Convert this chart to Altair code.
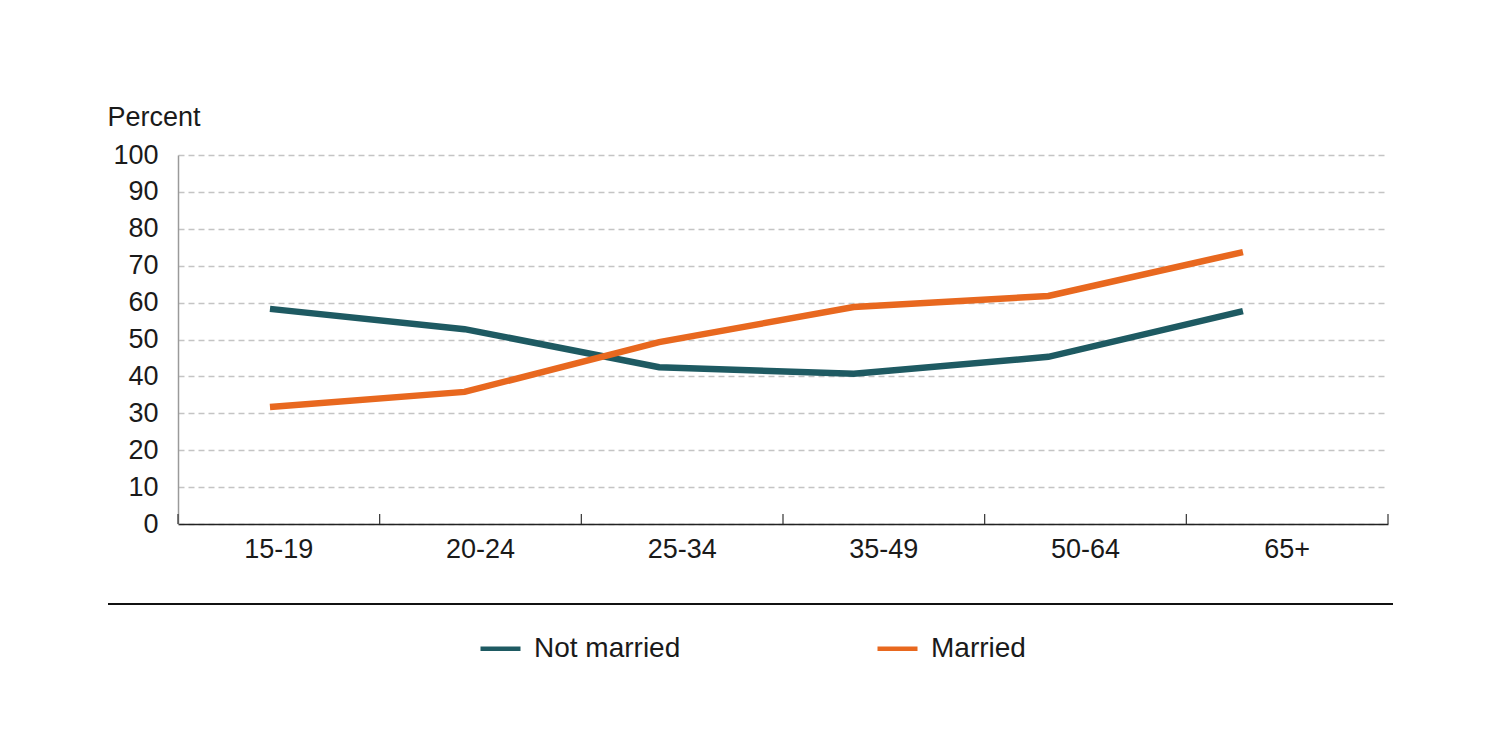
import altair as alt
import pandas as pd

categories = ["15-19", "20-24", "25-34", "35-49", "50-64", "65+"]
not_married = [58.3, 52.8, 42.5, 40.7, 45.3, 57.7]
married = [31.7, 35.8, 49.3, 58.8, 61.8, 73.7]
series_names = ["Not married", "Married"]
series_colors = ["#1e5a62", "#e8681f"]
y_ticks = list(range(0, 101, 10))

rows = []
for c, v in zip(categories, not_married):
    rows.append({"age": c, "series": "Not married", "pct": v})
for c, v in zip(categories, married):
    rows.append({"age": c, "series": "Married", "pct": v})
df = pd.DataFrame(rows)
cat_df = pd.DataFrame({"age": categories})
one_df = pd.DataFrame({"a": [0]})

W, H = 1210, 369
FONT = "Liberation Sans"
TXT = "#1a1a1a"

lines = alt.Chart(df).mark_line(strokeWidth=6.5, strokeCap="butt").encode(
    x=alt.X("age:N", sort=categories,
            scale=alt.Scale(type="point", padding=0.609, align=0.388), axis=None),
    y=alt.Y("pct:Q", scale=alt.Scale(domain=[0, 100]),
            axis=alt.Axis(values=y_ticks, title="Percent", titleAngle=0,
                          titleX=-71, titleY=-30, titleAlign="left",
                          titleBaseline="alphabetic", titleFontSize=27,
                          titleFontWeight="normal", titleColor=TXT, titleFont=FONT,
                          labelFontSize=27, labelPadding=20, labelColor=TXT, labelFont=FONT,
                          ticks=False, domainColor="#9a9a9a", domainWidth=1.5,
                          grid=True, gridDash=[6, 4], gridColor="#c4c4c4", gridWidth=1.4)),
    color=alt.Color("series:N", sort=series_names,
                    scale=alt.Scale(domain=series_names, range=series_colors),
                    legend=alt.Legend(title=None, orient="none", legendX=300, legendY=471,
                                      direction="horizontal", symbolType="stroke",
                                      symbolSize=1600, symbolStrokeWidth=4.5,
                                      labelFontSize=28, labelOffset=11, labelColor=TXT,
                                      labelFont=FONT, columnPadding=187, labelLimit=400)),
)

ticks = alt.Chart(cat_df).mark_rule(color="#333333", strokeWidth=1.2).encode(
    x=alt.X("age:N", sort=categories, bandPosition=0,
            scale=alt.Scale(type="band", paddingInner=0, paddingOuter=0),
            axis=alt.Axis(title=None, labelAngle=0, labelFontSize=27, labelPadding=12,
                          labelColor=TXT, labelFont=FONT, ticks=False, grid=False,
                          domainColor="#222222", domainWidth=1.5)),
    y=alt.value(H - 10),
    y2=alt.value(H),
)

end_tick = alt.Chart(one_df).mark_rule(color="#333333", strokeWidth=1.2).encode(
    x=alt.value(W), y=alt.value(H - 10), y2=alt.value(H)
)

sep = alt.Chart(one_df).mark_rule(color="#111111", strokeWidth=2).encode(
    x=alt.value(-70), x2=alt.value(1215), y=alt.value(449)
)

chart = alt.layer(ticks, end_tick, sep, lines).resolve_scale(x="independent").properties(
    width=W, height=H,
    autosize=alt.AutoSizeParams(type="none"),
    padding={"left": 170, "top": 147, "right": 90, "bottom": 220},
).configure(font=FONT, view=alt.ViewConfig(stroke=None))

chart.save("out.html", embed_options={"renderer": "svg", "actions": False})
